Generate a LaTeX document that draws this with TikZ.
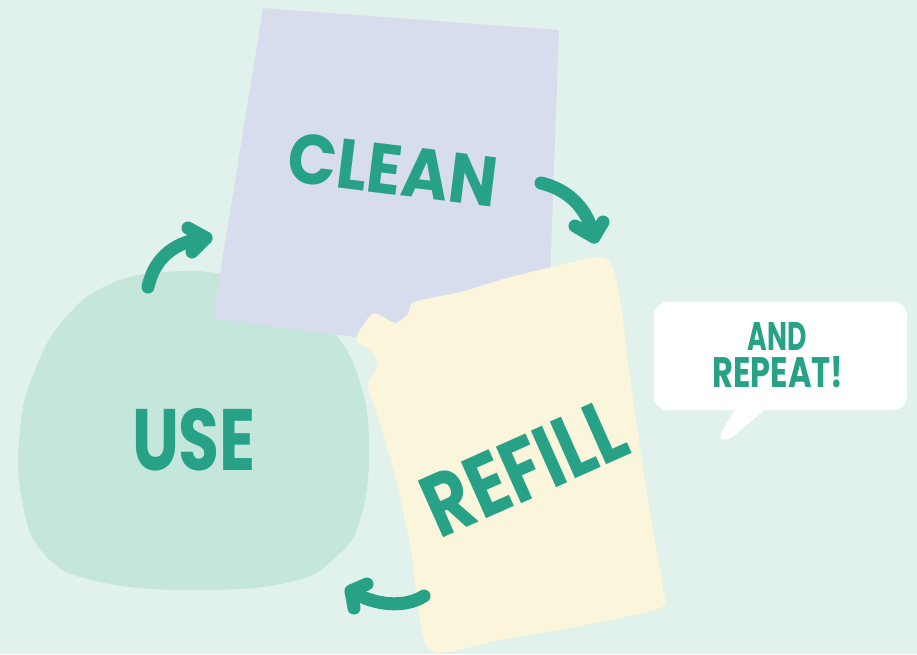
\documentclass[tikz,border=0pt]{standalone}
\usepackage{fontspec}
\setmainfont{Poppins}
\usepackage{graphicx}
\definecolor{bgc}{HTML}{E1F2EC}
\definecolor{lavc}{HTML}{D8DDEE}
\definecolor{blobc}{HTML}{C5E6DB}
\definecolor{yelc}{HTML}{FBF6DB}
\definecolor{tealc}{HTML}{28A286}
\tikzset{
  lbl/.style={text=tealc, inner sep=0pt, font=\bfseries},
  arrowline/.style={draw=tealc, line width=13pt, line cap=round, line join=round},
}
\begin{document}
\begin{tikzpicture}[x=1pt,y=-1pt]
\fill[bgc] (0,0) rectangle (917,654);
\useasboundingbox (0,0) rectangle (917,654);
% green blob (USE)
\fill[blobc] plot[smooth cycle, tension=0.75] coordinates {
 (167,272) (110,284) (65,318) (35,370) (20,430) (22,500) (45,555) (100,582) (200,590)
 (290,582) (335,558) (360,520) (369,450) (360,382) (330,328) (280,290) (222,274)};
% lavender card (CLEAN)
\fill[lavc] (263,8) -- (559,30) -- (547,363) -- (213,318) -- cycle;
% yellow card (REFILL)
\fill[yelc] plot[smooth cycle, tension=0.45] coordinates {
 (414,302) (460,292) (507,278) (560,265) (600,257) (613,268) (621,305) (629,370)
 (641,455) (653,530) (663,588) (660,608) (580,626) (500,640) (440,653) (424,640)
 (417,600) (410,545) (396,480) (379,420) (368,386) (377,367) (372,352) (356,339)
 (372,314) (385,318) (396,323) (408,314)};
% speech bubble
\fill[white, rounded corners=14pt] (654,302) rectangle (907,410);
\fill[white] (738,404) -- (723,430) .. controls (717,440) and (722,442) .. (732,437) -- (772,404) -- cycle;
% labels
\node[lbl, rotate=-7] (clean) at (393,170) {\resizebox{210pt}{50pt}{CLEAN}};
\node[lbl] (use) at (194,440) {\resizebox{124pt}{62pt}{USE}};
\node[lbl, rotate=24] (refill) at (524,468) {\resizebox{212pt}{62pt}{REFILL}};
\node[lbl] (and) at (777,336) {\resizebox{59pt}{28pt}{AND}};
\node[lbl] (repeat) at (778,372) {\resizebox{131pt}{31pt}{REPEAT!}};
% arrows
\coordinate (a1s) at (148,287); \coordinate (a1t) at (206,238);
\coordinate (a1l) at (188,228); \coordinate (a1r) at (192,252);
\draw[arrowline] (a1s) .. controls (155,255) and (178,241) .. (a1t);
\draw[arrowline] (a1l) -- (a1t) -- (a1r);
\coordinate (a2s) at (541,183); \coordinate (a2t) at (594,237);
\coordinate (a2l) at (575,226); \coordinate (a2r) at (603,222);
\draw[arrowline] (a2s) .. controls (570,190) and (588,210) .. (a2t);
\draw[arrowline] (a2l) -- (a2t) -- (a2r);
\coordinate (a3s) at (424,596); \coordinate (a3t) at (351,591);
\coordinate (a3l) at (367,584); \coordinate (a3r) at (354,608);
\draw[arrowline] (a3s) .. controls (405,608) and (375,606) .. (a3t);
\draw[arrowline] (a3l) -- (a3t) -- (a3r);
\end{tikzpicture}
\end{document}
